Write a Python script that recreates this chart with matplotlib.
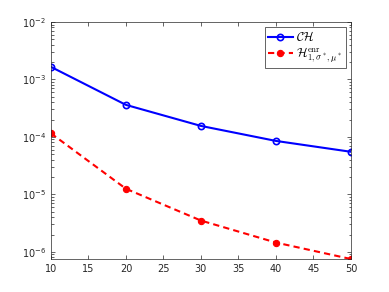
import matplotlib
matplotlib.use("Agg")
import matplotlib.pyplot as plt
from matplotlib.ticker import LogLocator, NullFormatter

plt.rcParams['mathtext.fontset'] = 'cm'

n = [10, 20, 30, 40, 50]
err_ch = [1.65e-3, 3.6e-4, 1.55e-4, 8.5e-5, 5.5e-5]
err_enr = [1.15e-4, 1.25e-5, 3.5e-6, 1.45e-6, 7.5e-7]

fig = plt.figure(figsize=(3.89, 2.92), dpi=100)
ax = fig.add_axes([0.131, 0.113, 0.771, 0.812])

ax.semilogy(n, err_ch, '-o', color='#0000ff', lw=1.5, ms=4.5, mfc='none', mew=1.2,
            label=r'$\mathcal{CH}$')
ax.semilogy(n, err_enr, '--o', color='#ff0000', lw=1.5, ms=4.5, mfc='#ff0000', mew=0.8,
            dashes=(3, 2), label=r'$\mathcal{H}^{\rm enr}_{1,\sigma^*,\mu^*}$')

ax.set_xlim(10, 50)
ax.set_ylim(7.5e-7, 1e-2)
ax.set_xticks(range(10, 51, 5))
ax.yaxis.set_major_locator(LogLocator(base=10, numticks=10))
ax.yaxis.set_minor_locator(LogLocator(base=10, subs=range(2, 10), numticks=10))
ax.yaxis.set_minor_formatter(NullFormatter())

ax.tick_params(which='both', direction='in', top=True, right=True,
               labelsize=7, colors='#262626', width=0.5)
ax.tick_params(which='major', length=3)
ax.tick_params(which='minor', length=1.8)
for s in ax.spines.values():
    s.set_linewidth(0.5)
    s.set_color('#262626')

leg = ax.legend(loc='upper right', fontsize=9, fancybox=False, framealpha=1,
                edgecolor='#262626', handlelength=2.0, handletextpad=0.3,
                borderpad=0.25, labelspacing=0.15, borderaxespad=0.4)
leg.get_frame().set_linewidth(0.5)

fig.savefig('out.png', dpi=100)
